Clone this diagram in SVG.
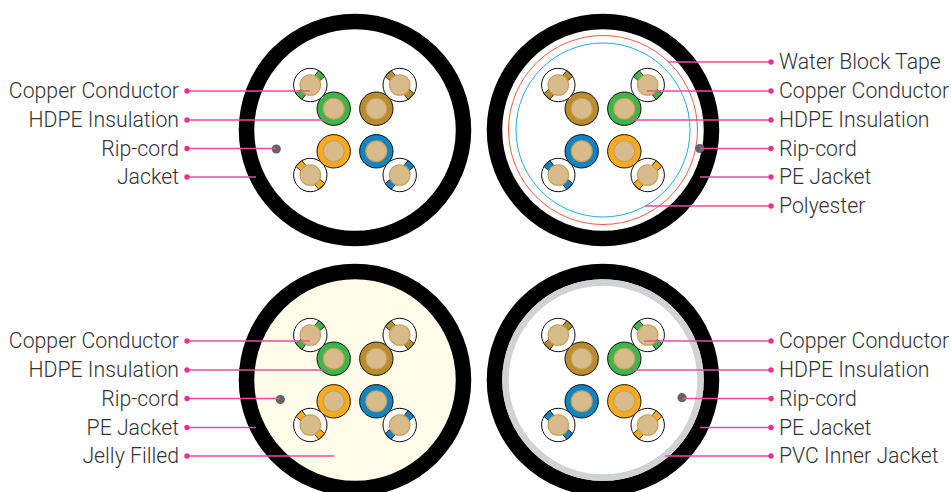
<svg xmlns="http://www.w3.org/2000/svg" xmlns:xlink="http://www.w3.org/1999/xlink" width="951" height="492" viewBox="0 0 951 492">
<style>
text{font-family:Roboto,"Liberation Sans",sans-serif;font-weight:300;font-size:21.25px;fill:#333335}
.l{text-anchor:end}
.c line{stroke:#ee4b9f;stroke-width:1.7}
.c circle{fill:#ec2f8f}
.rip{fill:#636466}
.k{stroke:#000;stroke-width:.9}
.tan{fill:#d8bb8a;stroke:#c79f55;stroke-width:1.1}
.tab{stroke:#000;stroke-width:.7}
</style>
<defs>
<g id="small">
<circle r="16.7" fill="#fff" stroke="#000" stroke-width=".9"/>
<path class="tab" d="M-4.200-16.200L4.200-16.200L3.600-9.500L-3.600-9.500ZM-4.200 16.200L4.200 16.200L3.600 9.500L-3.600 9.500Z"/>
<circle class="tan" r="10.300"/>
</g>
<g id="big">
<circle class="k" r="16.700"/>
<circle class="tan" r="10.500"/>
</g>
<g id="core">
<use xlink:href="#big" x="-21.3" y="-21.3" fill="#3db54a"/>
<use xlink:href="#big" x="21.3" y="-21.3" fill="#b88c2f"/>
<use xlink:href="#big" x="-21.3" y="21.3" fill="#fbaa1f"/>
<use xlink:href="#big" x="21.3" y="21.3" fill="#1284c2"/>
<use xlink:href="#small" transform="translate(-44.7,-45) rotate(45)" fill="#3db54a"/>
<use xlink:href="#small" transform="translate(44.7,-45) rotate(-45)" fill="#b88c2f"/>
<use xlink:href="#small" transform="translate(-44.7,45) rotate(-45)" fill="#fbaa1f"/>
<use xlink:href="#small" transform="translate(44.7,45) rotate(45)" fill="#1284c2"/>
</g>
<g id="core2">
<use xlink:href="#big" x="-21.3" y="-21.3" fill="#b88c2f"/>
<use xlink:href="#big" x="21.3" y="-21.3" fill="#3db54a"/>
<use xlink:href="#big" x="-21.3" y="21.3" fill="#1284c2"/>
<use xlink:href="#big" x="21.3" y="21.3" fill="#fbaa1f"/>
<use xlink:href="#small" transform="translate(-44.7,-45) rotate(45)" fill="#b88c2f"/>
<use xlink:href="#small" transform="translate(44.7,-45) rotate(-45)" fill="#3db54a"/>
<use xlink:href="#small" transform="translate(-44.7,45) rotate(-45)" fill="#1284c2"/>
<use xlink:href="#small" transform="translate(44.7,45) rotate(45)" fill="#fbaa1f"/>
</g>
</defs>
<g id="cable-1">
<circle cx="355" cy="130" r="108.500" fill="#fff" stroke="#000" stroke-width="15.500"/>
<use xlink:href="#core" x="355" y="130"/>
<circle class="rip" cx="276.300" cy="149" r="4.600"/>
</g>
<g id="cable-2">
<circle cx="603" cy="130" r="108.500" fill="#fff" stroke="#000" stroke-width="15.500"/>
<circle cx="603" cy="130" r="94.500" fill="none" stroke="#f15a40" stroke-width="1"/>
<circle cx="603" cy="130" r="87" fill="none" stroke="#27aae1" stroke-width="1"/>
<use xlink:href="#core2" x="603" y="130"/>
<circle class="rip" cx="699.700" cy="148.500" r="4.600"/>
</g>
<g id="cable-3">
<circle cx="355" cy="380" r="108.500" fill="#fffcea" stroke="#000" stroke-width="15.500"/>
<use xlink:href="#core" x="355" y="380"/>
<circle class="rip" cx="280.300" cy="399.500" r="4.600"/>
</g>
<g id="cable-4">
<circle cx="603" cy="380" r="108.500" fill="#fff" stroke="#000" stroke-width="15.500"/>
<circle cx="603" cy="380" r="97.500" fill="#fff" stroke="#d1d2d4" stroke-width="6.500"/>
<use xlink:href="#core2" x="603" y="380"/>
<circle class="rip" cx="682" cy="397.700" r="4.600"/>
</g>
<g id="connectors" class="c">
<line x1="187" y1="91" x2="310" y2="91"/><circle cx="187" cy="91" r="2.700"/>
<line x1="187" y1="120" x2="326" y2="120"/><circle cx="187" cy="120" r="2.700"/>
<line x1="187" y1="148.500" x2="276" y2="148.500"/><circle cx="187" cy="148.500" r="2.700"/>
<line x1="187" y1="177" x2="256" y2="177"/><circle cx="187" cy="177" r="2.700"/>
<line x1="771" y1="62" x2="668" y2="62"/><circle cx="771" cy="62" r="2.700"/>
<line x1="771" y1="91" x2="647" y2="91"/><circle cx="771" cy="91" r="2.700"/>
<line x1="771" y1="120" x2="631" y2="120"/><circle cx="771" cy="120" r="2.700"/>
<line x1="771" y1="148.500" x2="700" y2="148.500"/><circle cx="771" cy="148.500" r="2.700"/>
<line x1="771" y1="177" x2="700" y2="177"/><circle cx="771" cy="177" r="2.700"/>
<line x1="771" y1="206" x2="645" y2="206"/><circle cx="771" cy="206" r="2.700"/>
<line x1="187" y1="341" x2="310" y2="341"/><circle cx="187" cy="341" r="2.700"/>
<line x1="187" y1="370" x2="326" y2="370"/><circle cx="187" cy="370" r="2.700"/>
<line x1="187" y1="398.500" x2="280" y2="398.500"/><circle cx="187" cy="398.500" r="2.700"/>
<line x1="187" y1="427.500" x2="256" y2="427.500"/><circle cx="187" cy="427.500" r="2.700"/>
<line x1="187" y1="456" x2="334" y2="456"/><circle cx="187" cy="456" r="2.700"/>
<line x1="771" y1="341" x2="644" y2="341"/><circle cx="771" cy="341" r="2.700"/>
<line x1="771" y1="370" x2="631" y2="370"/><circle cx="771" cy="370" r="2.700"/>
<line x1="771" y1="398.500" x2="682" y2="398.500"/><circle cx="771" cy="398.500" r="2.700"/>
<line x1="771" y1="427.500" x2="700" y2="427.500"/><circle cx="771" cy="427.500" r="2.700"/>
<line x1="771" y1="456" x2="665" y2="456"/><circle cx="771" cy="456" r="2.700"/>
</g>
<g id="labels">
<text class="l" x="179" y="98">Copper Conductor</text>
<text class="l" x="179" y="127">HDPE Insulation</text>
<text class="l" x="179" y="155.500">Rip-cord</text>
<text class="l" x="179" y="184">Jacket</text>
<text x="779" y="69">Water Block Tape</text>
<text x="779" y="98">Copper Conductor</text>
<text x="779" y="127">HDPE Insulation</text>
<text x="779" y="155.500">Rip-cord</text>
<text x="779" y="184">PE Jacket</text>
<text x="779" y="213">Polyester</text>
<text class="l" x="179" y="348">Copper Conductor</text>
<text class="l" x="179" y="377">HDPE Insulation</text>
<text class="l" x="179" y="405.500">Rip-cord</text>
<text class="l" x="179" y="434.500">PE Jacket</text>
<text class="l" x="179" y="463">Jelly Filled</text>
<text x="779" y="348">Copper Conductor</text>
<text x="779" y="377">HDPE Insulation</text>
<text x="779" y="405.500">Rip-cord</text>
<text x="779" y="434.500">PE Jacket</text>
<text x="779" y="463">PVC Inner Jacket</text>
</g>
</svg>
